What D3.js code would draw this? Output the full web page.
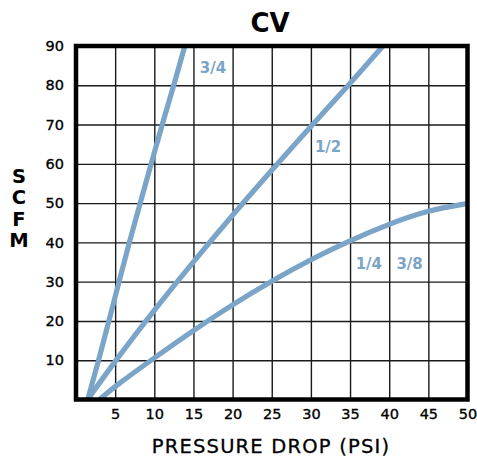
<!doctype html>
<html>
<head>
<style>
    body { margin: 0; background: #fff; }
    text { font-family: "DejaVu Sans", sans-serif; }
</style>
<script src="https://d3js.org/d3.v7.min.js"></script>
</head>
<body>
<svg width="477" height="457"></svg>
<script>
// tick values
var xTicks = [5, 10, 15, 20, 25, 30, 35, 40, 45, 50];
var yTicks = [10, 20, 30, 40, 50, 60, 70, 80, 90];

// curves: [psi, scfm]
var cv34 = [[1.5, 0], [2.9, 10], [4.2, 20], [5.5, 30], [6.8, 40], [8.2, 50], [9.6, 60], [11.0, 70], [12.5, 80], [13.9, 90]];
var cv12 = [[1.5, 0], [5, 9.8], [10, 22.8], [15, 35.1], [20, 47.0], [25, 58.4], [30, 69.6], [35, 80.4], [39.2, 90]];
var cv14 = [[3.0, 0], [5, 3.4], [10, 10.6], [15, 17.6], [20, 24.2], [25, 30.2], [30, 35.7], [35, 40.5], [40, 44.7], [45, 48.2], [50, 49.9]];

var seriesNames = ["3/4", "1/2", "1/4", "3/8"];
// label anchor points [psi, scfm]
var labelPos = [[17.5, 83], [32.2, 63], [37.4, 33.2], [42.6, 33.2]];

var svg = d3.select("svg");
var pL = 76, pR = 467.5, pT = 46, pB = 399.5;
var blue = "#7aa4c8";

var x = d3.scaleLinear().domain([0, 50]).range([pL, pR]);
var y = d3.scaleLinear().domain([0, 90]).range([pB, pT]);

// grid
svg.append("g")
    .attr("transform", "translate(0," + pB + ")")
    .call(d3.axisBottom(x).tickValues(xTicks.slice(0, -1)).tickSize(-(pB - pT)).tickFormat(""))
    .call(function(g) {
        g.select(".domain").remove();
        g.selectAll("line").attr("stroke", "#1a1a1a").attr("stroke-width", 1.4);
    });
svg.append("g")
    .attr("transform", "translate(" + pL + ",0)")
    .call(d3.axisLeft(y).tickValues(yTicks.slice(0, -1)).tickSize(-(pR - pL)).tickFormat(""))
    .call(function(g) {
        g.select(".domain").remove();
        g.selectAll("line").attr("stroke", "#1a1a1a").attr("stroke-width", 1.4);
    });

svg.append("clipPath").attr("id", "plot")
    .append("rect").attr("x", pL).attr("y", pT).attr("width", pR - pL).attr("height", pB - pT);

var line = d3.line()
    .x(function(d) { return x(d[0]); })
    .y(function(d) { return y(d[1]); })
    .curve(d3.curveBasis);

svg.append("g").attr("clip-path", "url(#plot)")
    .selectAll("path")
    .data([cv34, cv12, cv14])
    .enter().append("path")
    .attr("d", line)
    .attr("fill", "none")
    .attr("stroke", blue)
    .attr("stroke-width", 5.2);

// frame
svg.append("rect")
    .attr("x", pL).attr("y", pT)
    .attr("width", pR - pL).attr("height", pB - pT)
    .attr("fill", "none").attr("stroke", "#000").attr("stroke-width", 4.5);

// series labels
svg.selectAll(".lbl")
    .data(seriesNames)
    .enter().append("text")
    .attr("class", "lbl")
    .attr("x", function(d, i) { return x(labelPos[i][0]); })
    .attr("y", function(d, i) { return y(labelPos[i][1]); })
    .attr("text-anchor", "middle")
    .attr("fill", blue)
    .attr("font-size", 15)
    .attr("font-weight", 700)
    .text(function(d) { return d; });

// tick labels
svg.append("g")
    .attr("transform", "translate(" + (pL - 12) + ",0)")
    .call(d3.axisLeft(y).tickValues(yTicks).tickSize(0))
    .call(function(g) {
        g.select(".domain").remove();
        g.selectAll("text").attr("font-size", 14.5)
            .attr("font-family", "DejaVu Sans").attr("fill", "#000")
            .attr("stroke", "#000").attr("stroke-width", 0.35).attr("x", 0);
    });
svg.append("g")
    .attr("transform", "translate(0," + (pB + 9) + ")")
    .call(d3.axisBottom(x).tickValues(xTicks).tickSize(0))
    .call(function(g) {
        g.select(".domain").remove();
        g.selectAll("text").attr("font-size", 14.5)
            .attr("font-family", "DejaVu Sans").attr("fill", "#000")
            .attr("stroke", "#000").attr("stroke-width", 0.35).attr("y", 0).attr("dy", "0.71em");
    });

// titles
svg.append("text")
    .attr("x", 270).attr("y", 32)
    .attr("text-anchor", "middle")
    .attr("font-size", 26).attr("font-weight", 700)
    .text("CV");

svg.append("text")
    .attr("x", 271).attr("y", 453)
    .attr("text-anchor", "middle")
    .attr("font-size", 19.5)
    .attr("letter-spacing", 1.2)
    .attr("stroke", "#000").attr("stroke-width", 0.3)
    .text("PRESSURE DROP (PSI)");

svg.append("g").selectAll("text")
    .data(["S", "C", "F", "M"])
    .enter().append("text")
    .attr("x", 19)
    .attr("y", function(d, i) { return 183 + i * 21.3; })
    .attr("text-anchor", "middle")
    .attr("font-size", 19.5).attr("font-weight", 700)
    .text(function(d) { return d; });
</script>
</body>
</html>
